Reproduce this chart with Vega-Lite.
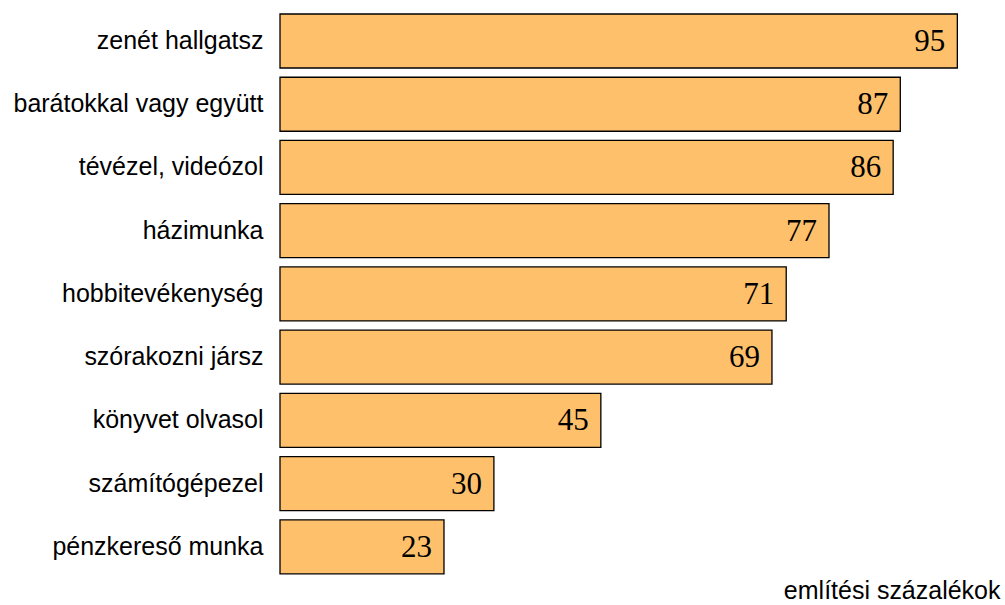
{
  "$schema": "https://vega.github.io/schema/vega-lite/v6.json",
  "width": 713,
  "height": 569,
  "autosize": {"type": "none"},
  "padding": {"left": 280, "top": 9.4, "right": 12, "bottom": 27},
  "background": "white",
  "data": {"values": [
    {"activity": "zenét hallgatsz", "value": 95},
    {"activity": "barátokkal vagy együtt", "value": 87},
    {"activity": "tévézel, videózol", "value": 86},
    {"activity": "házimunka", "value": 77},
    {"activity": "hobbitevékenység", "value": 71},
    {"activity": "szórakozni jársz", "value": 69},
    {"activity": "könyvet olvasol", "value": 45},
    {"activity": "számítógépezel", "value": 30},
    {"activity": "pénzkereső munka", "value": 23}
  ]},
  "config": {"view": {"stroke": null}},
  "encoding": {
    "y": {"field": "activity", "type": "nominal", "sort": null,
      "scale": {"paddingInner": 0.146, "paddingOuter": 0.073},
      "axis": {"title": null, "domain": false, "ticks": false, "labelPadding": 17,
        "labelFont": "Liberation Sans", "labelFontSize": 25, "labelColor": "black", "labelLimit": 400}},
    "x": {"field": "value", "type": "quantitative",
      "scale": {"domain": [0, 100], "nice": false},
      "axis": {"grid": false, "domain": false, "ticks": false, "labels": false,
        "title": "említési százalékok", "titleAnchor": "end", "titleAlign": "right",
        "titleX": 720, "titleY": 20, "titleBaseline": "alphabetic",
        "titleFont": "Liberation Sans", "titleFontSize": 25, "titleFontWeight": "normal", "titleColor": "black"}}
  },
  "layer": [
    {"mark": {"type": "bar", "fill": "#FFC06C", "stroke": "black", "strokeWidth": 1.3}},
    {"mark": {"type": "text", "align": "right", "baseline": "middle", "dx": -12, "dy": 1,
      "font": "Liberation Serif", "fontSize": 31, "color": "black"},
     "encoding": {"text": {"field": "value", "type": "quantitative"}}}
  ]
}
